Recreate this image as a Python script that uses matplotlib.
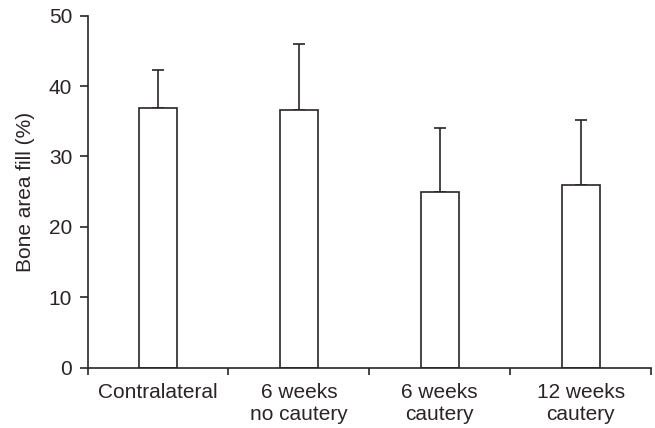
import numpy as np
import matplotlib.pyplot as plt

plt.rcParams['font.family'] = ['Liberation Sans', 'DejaVu Sans']

categories = ['Contralateral', '6 weeks\nno cautery', '6 weeks\ncautery', '12 weeks\ncautery']
means = [36.9, 36.6, 24.9, 25.9]
errors = [5.4, 9.4, 9.2, 9.3]

ink = '#2a2425'
lw = 1.2

fig = plt.figure(figsize=(6.55, 4.28), dpi=100)
ax = fig.add_axes([0.1336, 0.1405, 0.8603, 0.8232])

x = np.arange(len(categories))
ax.bar(x, means, width=0.27, color='white', edgecolor=ink, linewidth=lw, zorder=2)
ax.errorbar(x, means, yerr=[np.zeros(len(errors)), errors], fmt='none',
            ecolor=ink, elinewidth=lw, capsize=4.3, capthick=lw, zorder=1)

ax.set_xlim(-0.5, len(categories) - 0.5)
ax.set_ylim(0, 50)
ax.set_yticks([0, 10, 20, 30, 40, 50])
ax.set_xticks(np.arange(len(categories) + 1) - 0.5)
ax.set_xticklabels([])
ax.set_xticks(x, minor=True)
ax.set_xticklabels(categories, minor=True, fontsize=15, color=ink, linespacing=1.2)
ax.tick_params(axis='x', which='minor', length=0, pad=11)
ax.tick_params(axis='x', which='major', length=5, width=lw, color=ink)
ax.tick_params(axis='y', length=6, width=lw, color=ink, labelsize=15, labelcolor=ink, pad=5)

for s in ['top', 'right']:
    ax.spines[s].set_visible(False)
for s in ['left', 'bottom']:
    ax.spines[s].set_color(ink)
    ax.spines[s].set_linewidth(lw)

ax.set_ylabel('Bone area fill (%)', fontsize=15, color=ink, labelpad=10)

fig.savefig('out.png', dpi=100)
